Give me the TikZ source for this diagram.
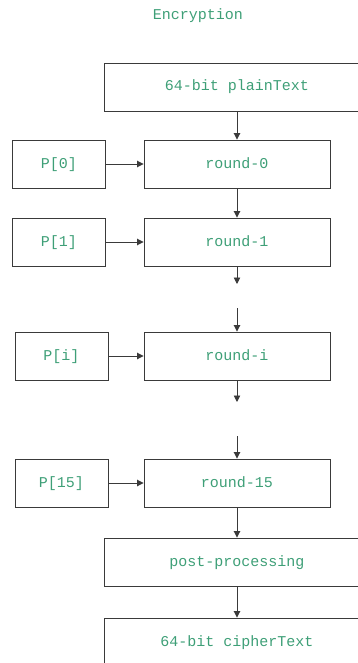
\documentclass[tikz,border=0pt]{standalone}
\usepackage{fontspec}
\setmonofont{Liberation Mono}
\usetikzlibrary{arrows.meta}
\definecolor{txtgreen}{HTML}{3E9F77}
\definecolor{linegray}{HTML}{3A3A3A}
\tikzset{
  box/.style={draw=linegray, line width=0.9pt, minimum height=48pt, inner sep=0pt,
    text height=11pt, text depth=3pt,
    font=\ttfamily\fontsize{15}{15}\selectfont, text=txtgreen},
  arr/.style={draw=linegray, line width=0.9pt, -{Triangle[length=6.5pt,width=6.5pt]}}
}
\begin{document}
\begin{tikzpicture}[x=1pt,y=-1pt]
	\useasboundingbox (0,0) rectangle (358,663);
	\clip (0,0) rectangle (358,663);
	\node[font=\ttfamily\fontsize{15}{15}\selectfont, text=txtgreen] (title) at (198,16) {Encryption};

	\node[box, minimum width=266pt] (plain) at (237,87) {64-bit plainText};
	\node[box, minimum width=186pt] (round0) at (237,164) {round-0};
	\node[box, minimum width=186pt] (round1) at (237,242) {round-1};
	\node[box, minimum width=186pt] (roundi) at (237,356) {round-i};
	\node[box, minimum width=186pt] (round15) at (237,483) {round-15};
	\node[box, minimum width=266pt] (post) at (237,562) {post-processing};
	\node[box, minimum width=266pt] (cipher) at (237,642) {64-bit cipherText};

	\node[box, minimum width=93pt] (p0) at (59,164) {P[0]};
	\node[box, minimum width=93pt] (p1) at (59,242) {P[1]};
	\node[box, minimum width=93pt] (pi) at (61.5,356) {P[i]};
	\node[box, minimum width=93pt] (p15) at (61.5,483) {P[15]};

	\coordinate (gap1a) at (237,284);
	\coordinate (gap1b) at (237,308);
	\coordinate (gap2a) at (237,402);
	\coordinate (gap2b) at (237,436);

	\draw[arr] (plain) -- (round0);
	\draw[arr] (round0) -- (round1);
	\draw[arr] (round1) -- (gap1a);
	\draw[arr] (gap1b) -- (roundi);
	\draw[arr] (roundi) -- (gap2a);
	\draw[arr] (gap2b) -- (round15);
	\draw[arr] (round15) -- (post);
	\draw[arr] (post) -- (cipher);

	\draw[arr] (p0) -- (round0);
	\draw[arr] (p1) -- (round1);
	\draw[arr] (pi) -- (roundi);
	\draw[arr] (p15) -- (round15);
\end{tikzpicture}
\end{document}
